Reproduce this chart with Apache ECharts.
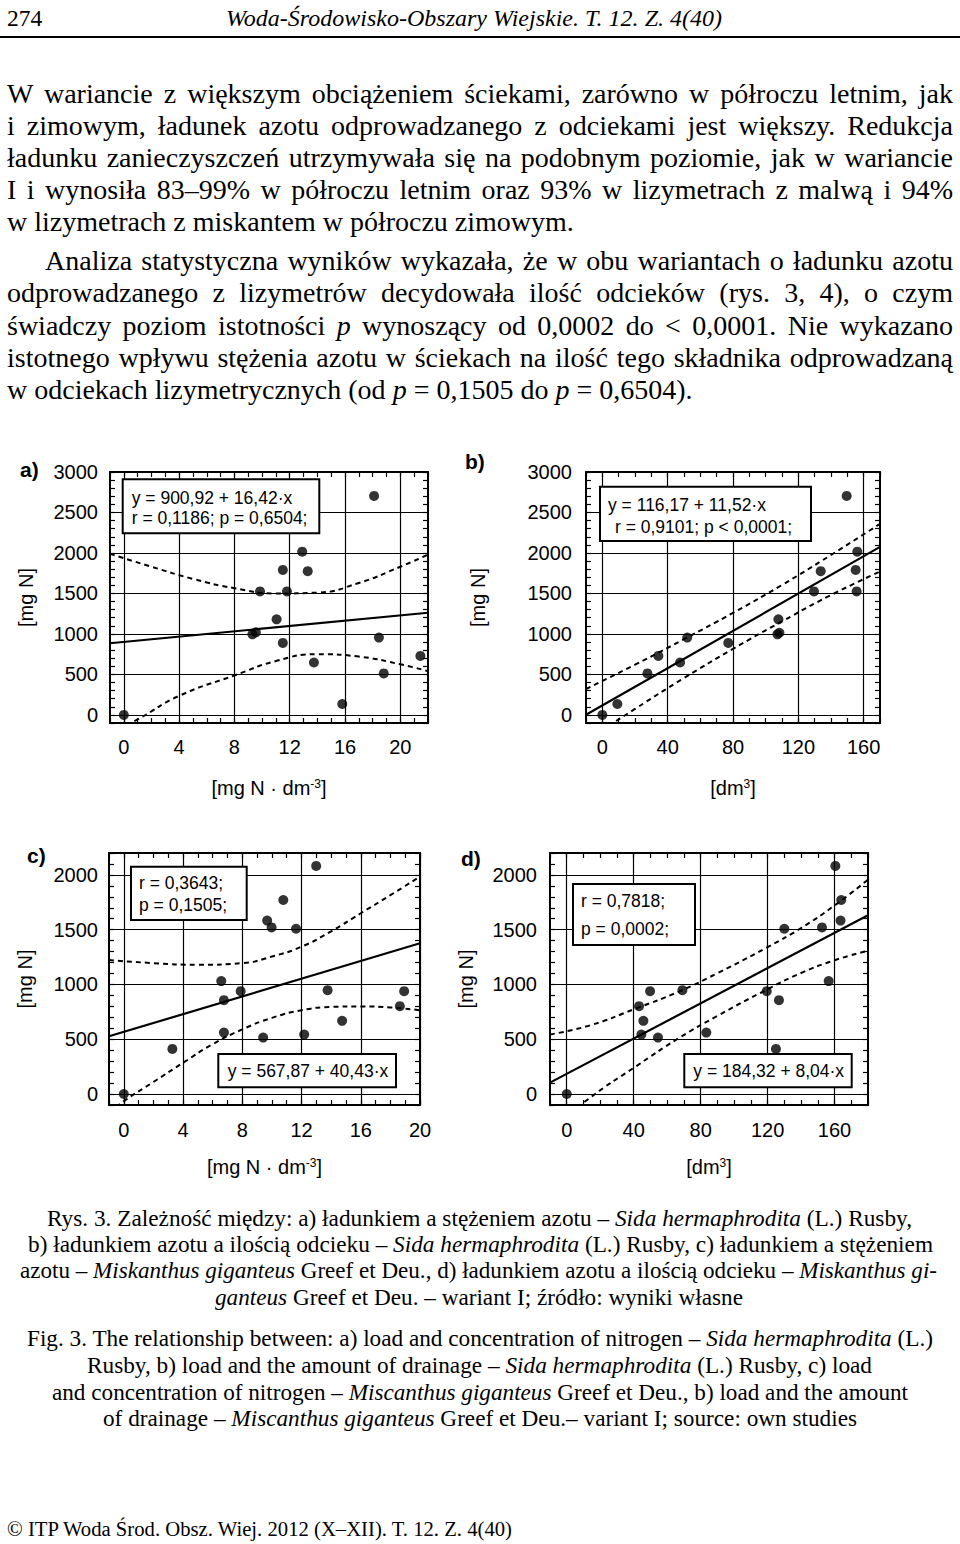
<!DOCTYPE html>
<html>
<head>
<meta charset="utf-8">
<script src="https://cdn.jsdelivr.net/npm/echarts@6/dist/echarts.min.js"></script>
<style>
html,body{margin:0;padding:0;background:#fff;}
#page{position:relative;width:960px;height:1544px;overflow:hidden;background:#fff;}
#chart{position:absolute;left:0;top:0;width:960px;height:1544px;}
.ln{position:absolute;white-space:nowrap;line-height:1;font-family:"Liberation Serif","Times New Roman",serif;color:#000;}
.ln .in{display:inline-block;transform-origin:0 50%;}
.rule{position:absolute;left:0;top:36px;width:960px;height:2px;background:#000;}
</style>
</head>
<body>
<div id="page">
<div id="chart"></div>

<div class="ln" style="left:7px;top:7px;font-size:23.5px;"><span class="in">274</span></div>
<div class="ln" style="left:226px;top:7px;font-size:23.5px;font-style:italic;" data-w="496" data-fit="scale"><span class="in">Woda-Środowisko-Obszary Wiejskie. T. 12. Z. 4(40)</span></div>
<div class="rule"></div>

<div class="ln" style="left:7px;top:79.6px;font-size:28px;" data-w="946" data-fit="justify"><span class="in">W wariancie z większym obciążeniem ściekami, zarówno w półroczu letnim, jak</span></div>
<div class="ln" style="left:7px;top:111.6px;font-size:28px;" data-w="946" data-fit="justify"><span class="in">i zimowym, ładunek azotu odprowadzanego z odciekami jest większy. Redukcja</span></div>
<div class="ln" style="left:7px;top:143.6px;font-size:28px;" data-w="946" data-fit="justify"><span class="in">ładunku zanieczyszczeń utrzymywała się na podobnym poziomie, jak w wariancie</span></div>
<div class="ln" style="left:7px;top:175.6px;font-size:28px;" data-w="946" data-fit="justify"><span class="in">I i wynosiła 83–99% w półroczu letnim oraz 93% w lizymetrach z malwą i 94%</span></div>
<div class="ln" style="left:7px;top:207.6px;font-size:28px;"><span class="in">w lizymetrach z miskantem w półroczu zimowym.</span></div>
<div class="ln" style="left:45px;top:246.6px;font-size:28px;" data-w="908" data-fit="justify"><span class="in">Analiza statystyczna wyników wykazała, że w obu wariantach o ładunku azotu</span></div>
<div class="ln" style="left:7px;top:278.6px;font-size:28px;" data-w="946" data-fit="justify"><span class="in">odprowadzanego z lizymetrów decydowała ilość odcieków (rys. 3, 4), o czym</span></div>
<div class="ln" style="left:7px;top:311.6px;font-size:28px;" data-w="946" data-fit="justify"><span class="in">świadczy poziom istotności <i>p</i> wynoszący od 0,0002 do &lt; 0,0001. Nie wykazano</span></div>
<div class="ln" style="left:7px;top:343.6px;font-size:28px;" data-w="946" data-fit="justify"><span class="in">istotnego wpływu stężenia azotu w ściekach na ilość tego składnika odprowadzaną</span></div>
<div class="ln" style="left:7px;top:375.6px;font-size:28px;"><span class="in">w odciekach lizymetrycznych (od <i>p</i> = 0,1505 do <i>p</i> = 0,6504).</span></div>

<div class="ln" style="left:47px;top:1207.6px;font-size:22.5px;" data-w="865" data-fit="scale"><span class="in">Rys. 3. Zależność między: a) ładunkiem a stężeniem azotu – <i>Sida hermaphrodita</i> (L.) Rusby,</span></div>
<div class="ln" style="left:28px;top:1233.6px;font-size:22.5px;" data-w="905" data-fit="scale"><span class="in">b) ładunkiem azotu a ilością odcieku – <i>Sida hermaphrodita</i> (L.) Rusby, c) ładunkiem a stężeniem</span></div>
<div class="ln" style="left:20px;top:1259.6px;font-size:22.5px;" data-w="917" data-fit="scale"><span class="in">azotu – <i>Miskanthus giganteus</i> Greef et Deu., d) ładunkiem azotu a ilością odcieku – <i>Miskanthus gi-</i></span></div>
<div class="ln" style="left:215px;top:1286.6px;font-size:22.5px;" data-w="528" data-fit="scale"><span class="in"><i>ganteus</i> Greef et Deu. – wariant I; źródło: wyniki własne</span></div>

<div class="ln" style="left:27px;top:1327.6px;font-size:22.5px;" data-w="906" data-fit="scale"><span class="in">Fig. 3. The relationship between: a) load and concentration of nitrogen – <i>Sida hermaphrodita</i> (L.)</span></div>
<div class="ln" style="left:87px;top:1354.6px;font-size:22.5px;" data-w="785" data-fit="scale"><span class="in">Rusby, b) load and the amount of drainage – <i>Sida hermaphrodita</i> (L.) Rusby, c) load</span></div>
<div class="ln" style="left:52px;top:1381.6px;font-size:22.5px;" data-w="856" data-fit="scale"><span class="in">and concentration of nitrogen – <i>Miscanthus giganteus</i> Greef et Deu., b) load and the amount</span></div>
<div class="ln" style="left:103px;top:1407.6px;font-size:22.5px;" data-w="754" data-fit="scale"><span class="in">of drainage – <i>Miscanthus giganteus</i> Greef et Deu.– variant I; source: own studies</span></div>

<div class="ln" style="left:7px;top:1518.7px;font-size:20.5px;" data-w="505" data-fit="scale"><span class="in">© ITP Woda Środ. Obsz. Wiej. 2012 (X–XII). T. 12. Z. 4(40)</span></div>
</div>

<script>
// ---------- DATA ----------
// a) load vs concentration, Sida
const aX = [0, 18.1, 12.9, 11.5, 13.3, 9.85, 11.8, 11.05, 9.3, 9.55, 11.5, 13.75, 15.8, 18.45, 18.8, 21.45];
const aY = [0, 2705, 2016, 1791, 1775, 1525, 1525, 1180, 995, 1020, 889, 647, 135, 955, 512, 729];
const aRegX = [-1, 22];
const aRegY = [885, 1262];
const aUpX = [-1, 2, 5, 8, 11, 14, 17, 20, 22];
const aUpY = [1990, 1830, 1680, 1565, 1500, 1510, 1630, 1830, 1980];
const aLoX = [-1, 1, 4, 8, 11, 14, 17, 20, 22];
const aLoY = [-220, -55, 235, 487, 665, 750, 720, 625, 540];

// b) load vs drainage, Sida
const bX = [0, 9.2, 27.6, 34.3, 47.6, 52.0, 77.1, 107.8, 107.2, 108.4, 129.6, 133.7, 149.6, 156.1, 155.1, 155.7];
const bY = [0, 135, 512, 729, 647, 955, 889, 1180, 995, 1015, 1525, 1775, 2705, 2016, 1791, 1525];
const bRegX = [-10, 170];
const bRegY = [1, 2075];
const bUpX = [-10, 20, 50, 80, 110, 140, 170];
const bUpY = [320, 620, 935, 1260, 1605, 1975, 2360];
const bLoX = [-10, 20, 50, 80, 110, 140, 170];
const bLoY = [-318, 74, 455, 815, 1155, 1480, 1770];

// c) load vs concentration, Miscanthus
const cX = [0, 3.28, 6.58, 6.76, 7.89, 6.76, 9.41, 9.68, 9.98, 10.77, 11.63, 12.18, 12.99, 13.76, 14.74, 18.64, 18.93];
const cY = [0, 412, 1031, 857, 939, 561, 515, 1583, 1521, 1771, 1509, 543, 2082, 948, 668, 802, 939];
const cRegX = [-1, 20];
const cRegY = [527, 1376];
const cUpX = [-1, 2, 5, 8, 10, 12, 14, 16, 18, 20];
const cUpY = [1223, 1195, 1180, 1195, 1255, 1345, 1485, 1650, 1815, 1985];
const cLoX = [-1, 0, 2, 4, 6, 8, 10, 12, 14, 16, 18, 20];
const cLoY = [-170, -65, 110, 285, 455, 590, 695, 765, 795, 800, 790, 765];

// d) load vs drainage, Miscanthus
const dX = [0, 43.2, 49.8, 45.8, 44.6, 54.5, 69.1, 83.4, 119.5, 126.8, 125.0, 130.0, 152.5, 156.5, 160.5, 164.0, 163.6];
const dY = [0, 802, 939, 668, 543, 515, 948, 561, 939, 857, 412, 1509, 1521, 1031, 2082, 1771, 1583];
const dRegX = [-10, 180];
const dRegY = [104, 1632];
const dUpX = [-10, 14, 41, 67, 90, 120, 140, 160, 180];
const dUpY = [544, 627, 779, 935, 1103, 1341, 1515, 1721, 1957];
const dLoX = [-10, 14, 41, 67, 90, 120, 140, 160, 180];
const dLoY = [-336, -33, 249, 511, 713, 957, 1105, 1221, 1307];

// tick labels
const ticksConc = [0, 4, 8, 12, 16, 20];
const ticksDrain = [0, 40, 80, 120, 160];
const ticksLoadAB = [0, 500, 1000, 1500, 2000, 2500, 3000];
const ticksLoadCD = [0, 500, 1000, 1500, 2000];

// ---------- text fitting ----------
document.querySelectorAll('.ln').forEach(function (el) {
  const inner = el.querySelector('.in');
  const target = parseFloat(el.dataset.w || '0');
  if (!target) return;
  const w0 = inner.getBoundingClientRect().width;
  if (el.dataset.fit === 'justify' && w0 < target) {
    const n = (inner.textContent.match(/ /g) || []).length;
    if (n > 0) inner.style.wordSpacing = ((target - w0) / n) + 'px';
  } else {
    inner.style.transform = 'scaleX(' + (target / w0) + ')';
  }
});

// ---------- chart ----------
const FONT = '"Liberation Sans", Arial, sans-serif';
const zip = (xs, ys) => xs.map((x, i) => [x, ys[i]]);

const panels = [
  { grid: [110, 472, 318, 251], xr: [-1, 22, 1], yr: [-100, 3000, 100], xt: ticksConc, yt: ticksLoadAB,
    pts: [aX, aY], reg: [aRegX, aRegY], up: [aUpX, aUpY], lo: [aLoX, aLoY],
    xName: '[mg N · dm{s|-3}]', xlm: 14, ylm: 12, xng: 55, yng: 74 },
  { grid: [586, 472, 294, 251], xr: [-10, 170, 10], yr: [-100, 3000, 100], xt: ticksDrain, yt: ticksLoadAB,
    pts: [bX, bY], reg: [bRegX, bRegY], up: [bUpX, bUpY], lo: [bLoX, bLoY],
    xName: '[dm{s|3}]', xlm: 14, ylm: 14, xng: 55, yng: 98 },
  { grid: [109, 853, 311, 252], xr: [-1, 20, 1], yr: [-100, 2200, 100], xt: ticksConc, yt: ticksLoadCD,
    pts: [cX, cY], reg: [cRegX, cRegY], up: [cUpX, cUpY], lo: [cLoX, cLoY],
    xName: '[mg N · dm{s|-3}]', xlm: 15, ylm: 11, xng: 52, yng: 74 },
  { grid: [550, 853, 318, 252], xr: [-10, 180, 10], yr: [-100, 2200, 100], xt: ticksDrain, yt: ticksLoadCD,
    pts: [dX, dY], reg: [dRegX, dRegY], up: [dUpX, dUpY], lo: [dLoX, dLoY],
    xName: '[dm{s|3}]', xlm: 15, ylm: 13, xng: 52, yng: 74 }
];

const grids = [], xAxes = [], yAxes = [], series = [];
const lineBlack = { color: '#000', width: 2 };
const tickStyle = { color: '#000', width: 1.2 };

panels.forEach(function (p, gi) {
  grids.push({ left: p.grid[0], top: p.grid[1], width: p.grid[2], height: p.grid[3],
               containLabel: false, outerBoundsMode: 'none', show: false });
  const xBase = { gridIndex: gi, type: 'value', min: p.xr[0], max: p.xr[1], interval: p.xr[2],
    axisLine: { show: true, onZero: false, lineStyle: lineBlack },
    axisTick: { show: true, inside: true, length: 5, lineStyle: tickStyle },
    minorTick: { show: false }, splitLine: { show: false } };
  xAxes.push(Object.assign({}, xBase, {
    position: 'bottom',
    axisLabel: { show: true, margin: p.xlm, fontSize: 20, color: '#000', fontFamily: FONT,
      formatter: v => p.xt.indexOf(Math.round(v * 1000) / 1000) >= 0 ? String(Math.round(v)) : '' },
    name: p.xName, nameLocation: 'middle', nameGap: p.xng,
    nameTextStyle: { fontSize: 20, color: '#000', fontFamily: FONT,
      rich: { s: { fontSize: 12, color: '#000', fontFamily: FONT, verticalAlign: 'top' } } }
  }));
  xAxes.push(Object.assign({}, xBase, { position: 'top', axisLabel: { show: false } }));

  const yBase = { gridIndex: gi, type: 'value', min: p.yr[0], max: p.yr[1], interval: p.yr[2],
    axisLine: { show: true, onZero: false, lineStyle: lineBlack },
    axisTick: { show: true, inside: true, length: 5, lineStyle: tickStyle },
    minorTick: { show: false }, splitLine: { show: false } };
  yAxes.push(Object.assign({}, yBase, {
    position: 'left',
    axisLabel: { show: true, margin: p.ylm, fontSize: 20, color: '#000', fontFamily: FONT,
      formatter: v => p.yt.indexOf(Math.round(v)) >= 0 ? String(Math.round(v)) : '' },
    name: '[mg N]', nameLocation: 'middle', nameGap: p.yng, nameRotate: 90,
    nameTextStyle: { fontSize: 20, color: '#000', fontFamily: FONT }
  }));
  yAxes.push(Object.assign({}, yBase, { position: 'right', axisLabel: { show: false } }));

  const xi = gi * 2, yi = gi * 2;
  // grid lines at labelled ticks
  series.push({ type: 'line', xAxisIndex: xi, yAxisIndex: yi, data: [], z: 1, silent: true,
    markLine: { silent: true, symbol: 'none', animation: false, label: { show: false },
      lineStyle: { color: '#000', width: 1.2, type: 'solid' },
      emphasis: { disabled: true },
      data: p.xt.map(v => ({ xAxis: v })).concat(p.yt.map(v => ({ yAxis: v }))) } });
  // confidence bands
  [p.up, p.lo].forEach(function (b) {
    series.push({ type: 'line', xAxisIndex: xi, yAxisIndex: yi, data: zip(b[0], b[1]),
      smooth: 0.5, symbol: 'none', clip: true, z: 3, silent: true,
      lineStyle: { color: '#000', width: 2, type: [5, 4] } });
  });
  // regression line
  series.push({ type: 'line', xAxisIndex: xi, yAxisIndex: yi, data: zip(p.reg[0], p.reg[1]),
    symbol: 'none', clip: true, z: 3, silent: true, lineStyle: { color: '#000', width: 2.2 } });
  // points
  series.push({ type: 'scatter', xAxisIndex: xi, yAxisIndex: yi, data: zip(p.pts[0], p.pts[1]),
    symbol: 'circle', symbolSize: 10, z: 5, silent: true, itemStyle: { color: '#000' } });
});

// annotation boxes and panel letters
const boxes = [
  { r: [122.7, 479.3, 196.6, 54], t: [['y = 900,92 + 16,42\u00B7x', 131.7, 498], ['r = 0,1186; p = 0,6504;', 131.7, 518]] },
  { r: [600, 486.7, 211, 54.3], t: [['y = 116,17 + 11,52\u00B7x', 608, 505], ['r = 0,9101; p < 0,0001;', 615, 526.7]] },
  { r: [131, 866.7, 115.7, 53.3], t: [['r = 0,3643;', 139, 883.3], ['p = 0,1505;', 139, 905]] },
  { r: [218.3, 1054, 177.7, 33.3], t: [['y = 567,87 + 40,43\u00B7x', 227.7, 1070.7]] },
  { r: [573, 884, 122, 61], t: [['r = 0,7818;', 581, 901], ['p = 0,0002;', 581, 929]] },
  { r: [684.3, 1054, 167.4, 33.3], t: [['y = 184,32 + 8,04\u00B7x', 693.3, 1070.7]] }
];
const letters = [['a)', 20, 469], ['b)', 465, 461], ['c)', 27, 855], ['d)', 461, 858]];

const graphic = [];
boxes.forEach(function (b) {
  graphic.push({ type: 'rect', z: 100, silent: true,
    shape: { x: b.r[0], y: b.r[1], width: b.r[2], height: b.r[3] },
    style: { fill: '#fff', stroke: '#000', lineWidth: 2 } });
  b.t.forEach(function (t) {
    graphic.push({ type: 'text', z: 101, silent: true, x: t[1], y: t[2],
      style: { text: t[0], fill: '#000', fontSize: 17.5, fontFamily: FONT, verticalAlign: 'middle', align: 'left' } });
  });
});
letters.forEach(function (l) {
  graphic.push({ type: 'text', z: 101, silent: true, x: l[1], y: l[2],
    style: { text: l[0], fill: '#000', fontSize: 21, fontWeight: 'bold', fontFamily: FONT, verticalAlign: 'middle', align: 'left' } });
});

const chart = echarts.init(document.getElementById('chart'), null, { renderer: 'svg' });
chart.setOption({
  animation: false,
  backgroundColor: 'transparent',
  textStyle: { fontFamily: FONT, color: '#000' },
  grid: grids,
  xAxis: xAxes,
  yAxis: yAxes,
  series: series,
  graphic: graphic
});
</script>
</body>
</html>
